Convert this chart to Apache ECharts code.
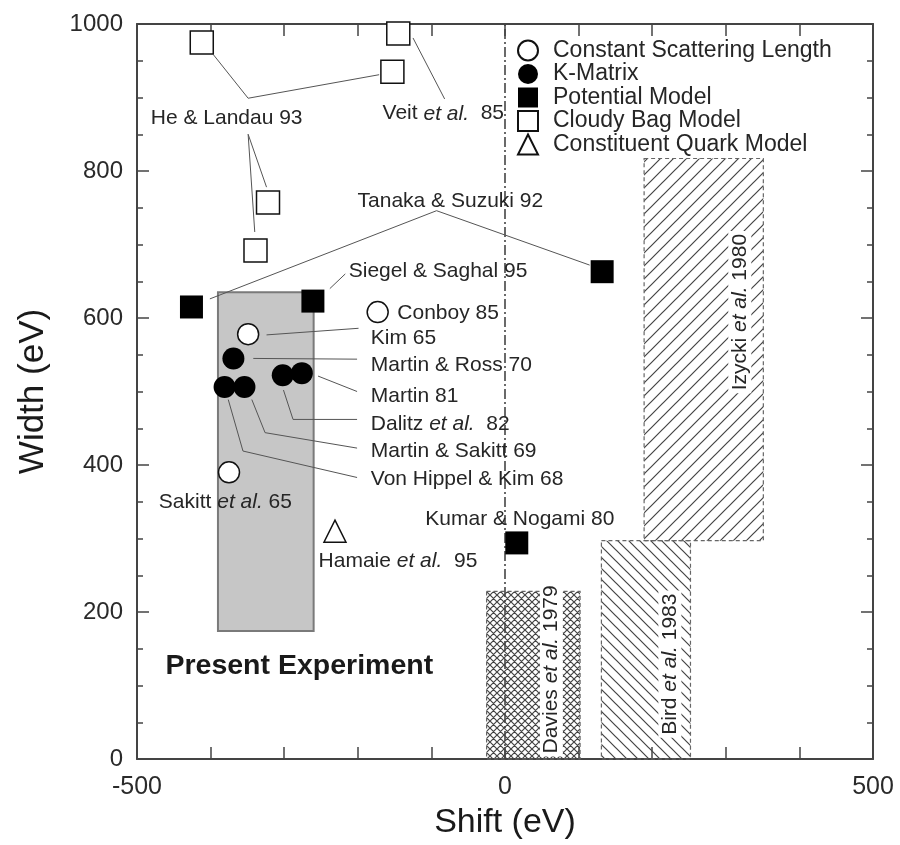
<!DOCTYPE html>
<html><head><meta charset="utf-8">
<script src="https://cdn.jsdelivr.net/npm/echarts@6/dist/echarts.min.js"></script>
<style>html,body{margin:0;padding:0;background:#fff}#chart{width:900px;height:845px}</style>
</head><body><div id="chart"></div>
<script>
// ---- data ----
const xTickLabels = [-500, 0, 500];
const yTickLabels = [0, 200, 400, 600, 800, 1000];
const seriesNames = ['Constant Scattering Length', 'K-Matrix', 'Potential Model', 'Cloudy Bag Model', 'Constituent Quark Model'];
const constantScattering = [[-173, 608], [-349, 578], [-375, 390]];
const kMatrix = [[-369, 545], [-381, 506], [-354, 506], [-302, 522], [-276, 525]];
const potentialModel = [[-426, 615], [-261, 623], [132, 663], [16, 294]];
const cloudyBag = [[-412, 975], [-145, 987], [-153, 935], [-322, 757], [-339, 692]];
const constituentQuark = [[-231, 310]];
// regions: [xMin, xMax, yMin, yMax]
const regions = [[-390, -260, 174, 635], [-25, 102, 0, 228], [131, 252, 0, 297], [189, 351, 297, 817]];
const regionKinds = ['present', 'cross', 'back', 'fwd'];
const zeroLine = [[0, 0], [0, 1000]];
const leaders = [
  [[-396, 958], [-349, 899], [-171, 931]],
  [[-349, 850], [-324, 778]],
  [[-349, 850], [-340, 717]],
  [[-125, 981], [-82, 898]],
  [[-401, 626], [-93, 746], [115, 672]],
  [[-217, 660], [-238, 640]],
  [[-324, 577], [-199, 586]],
  [[-342, 545], [-201, 544]],
  [[-254, 521], [-201, 500]],
  [[-301, 502], [-288, 462], [-201, 462]],
  [[-344, 489], [-326, 444], [-201, 423]],
  [[-376, 489], [-356, 419], [-201, 383]]
];
const notes = [
  ['He & Landau 93', -482, 872],
  ['Veit {i|et al.}  85', -167, 878],
  ['Tanaka & Suzuki 92', -201, 759],
  ['Siegel & Saghal 95', -213, 663],
  ['Conboy 85', -147, 606],
  ['Kim 65', -183, 572],
  ['Martin & Ross 70', -183, 536],
  ['Martin 81', -183, 494],
  ['Dalitz {i|et al.}  82', -183, 456],
  ['Martin & Sakitt 69', -183, 419],
  ['Von Hippel & Kim 68', -183, 380],
  ['Sakitt {i|et al.} 65', -471, 349],
  ['Hamaie {i|et al.}  95', -254, 269],
  ['Kumar & Nogami 80', -109, 326]
];
const boldNotes = [['Present Experiment', -462, 127]];
const vertNotes = [
  ['Davies {i|et al.} 1979', 63, 122],
  ['Bird {i|et al.} 1983', 224, 129],
  ['Izycki {i|et al.} 1980', 319, 608]
];

// ---- rendering ----
const FONT = 'Liberation Sans, Arial, Helvetica, sans-serif';
const TXT = '#262626';
function hatch(kind) {
  const s = kind === 'cross' ? 7 : (kind === 'back' ? 11 : 13);
  const c = document.createElement('canvas');
  c.width = s; c.height = s;
  const g = c.getContext('2d');
  g.strokeStyle = '#444'; g.lineWidth = 1.2;
  g.beginPath();
  if (kind === 'fwd' || kind === 'cross') {
    g.moveTo(-1, s + 1); g.lineTo(s + 1, -1);
    g.moveTo(-1, 1); g.lineTo(1, -1);
    g.moveTo(s - 1, s + 1); g.lineTo(s + 1, s - 1);
  }
  if (kind === 'back' || kind === 'cross') {
    g.moveTo(-1, -1); g.lineTo(s + 1, s + 1);
    g.moveTo(s - 1, -1); g.lineTo(s + 1, 1);
    g.moveTo(-1, s - 1); g.lineTo(1, s + 1);
  }
  g.stroke();
  return c;
}
const patterns = { cross: hatch('cross'), back: hatch('back'), fwd: hatch('fwd') };

const richItalic = (size) => ({ i: { fontStyle: 'italic', fontSize: size, fontFamily: FONT, color: TXT } });
const axisCol = '#444';
function xAxisCfg(pos) {
  return {
    type: 'value', min: -500, max: 500, interval: 100, position: pos,
    axisLine: { onZero: false, lineStyle: { color: axisCol, width: 2 } },
    axisTick: { inside: true, length: 12, lineStyle: { color: axisCol, width: 1.5 } },
    axisLabel: pos === 'bottom' ? {
      show: true, fontSize: 25, color: '#2a2a2a', margin: 16, fontFamily: FONT,
      formatter: v => xTickLabels.includes(v) ? String(v) : ''
    } : { show: false },
    splitLine: { show: false }
  };
}
function yAxisCfg(pos) {
  return {
    type: 'value', min: 0, max: 1000, interval: 200, position: pos,
    axisLine: { onZero: false, lineStyle: { color: axisCol, width: 2 } },
    axisTick: { inside: true, length: 12, lineStyle: { color: axisCol, width: 1.5 } },
    minorTick: { show: true, splitNumber: 4, length: 6, lineStyle: { color: axisCol, width: 1.5 } },
    axisLabel: pos === 'left' ? {
      show: true, fontSize: 24, color: '#2a2a2a', margin: 14, fontFamily: FONT,
      formatter: v => yTickLabels.includes(v) ? String(v) : ''
    } : { show: false },
    splitLine: { show: false }, minorSplitLine: { show: false }
  };
}
const xb = xAxisCfg('bottom');
xb.name = 'Shift (eV)'; xb.nameLocation = 'middle'; xb.nameGap = 47;
xb.nameTextStyle = { fontSize: 34, color: '#1a1a1a', fontFamily: FONT };
const xt = xAxisCfg('top');
const yl = yAxisCfg('left');
yl.name = 'Width (eV)'; yl.nameLocation = 'middle'; yl.nameGap = 86;
yl.nameTextStyle = { fontSize: 35, color: '#1a1a1a', fontFamily: FONT };
const yr = yAxisCfg('right');

const markerSeries = (name, data, symbol, size, open) => ({
  name, type: 'scatter', data, symbol, symbolSize: size, z: 6, silent: true,
  itemStyle: open ? { color: '#fff', borderColor: '#111', borderWidth: 1.5, opacity: 1 }
                  : { color: '#000', borderColor: '#000', borderWidth: 0, opacity: 1 }
});
const hidden = { color: 'rgba(0,0,0,0)', borderWidth: 0, opacity: 1 };

const option = {
  animation: false,
  backgroundColor: '#fff',
  textStyle: { fontFamily: FONT },
  grid: { left: 137, right: 27, top: 24, bottom: 82 },
  xAxis: [xb, xt],
  yAxis: [yl, yr],
  legend: {
    orient: 'vertical', left: 512, top: 34, itemWidth: 20, itemHeight: 20, itemGap: 0.5,
    selectedMode: false,
    textStyle: { fontSize: 23, color: TXT, fontFamily: FONT, padding: [0, 0, 0, 10] },
    data: [
      { name: seriesNames[0], icon: 'circle' },
      { name: seriesNames[1], icon: 'circle' },
      { name: seriesNames[2], icon: 'rect' },
      { name: seriesNames[3], icon: 'rect' },
      { name: seriesNames[4], icon: 'triangle' }
    ]
  },
  series: [
    {
      type: 'custom', z: 1, silent: true, data: regions,
      encode: { x: [0, 1], y: [2, 3] },
      renderItem: (params, api) => {
        const k = regionKinds[params.dataIndex];
        const p1 = api.coord([api.value(0), api.value(3)]);
        const p2 = api.coord([api.value(1), api.value(2)]);
        const shape = { x: p1[0], y: p1[1], width: p2[0] - p1[0], height: p2[1] - p1[1] };
        if (k === 'present') {
          return { type: 'rect', shape, style: { fill: '#c6c6c6', stroke: '#7a7a7a', lineWidth: 2 } };
        }
        return { type: 'rect', shape, style: { fill: { image: patterns[k], repeat: 'repeat' }, stroke: '#666', lineWidth: 1.2, lineDash: [4, 3] } };
      }
    },
    {
      type: 'line', data: zeroLine, symbol: 'none', z: 2, silent: true,
      lineStyle: { color: '#444', width: 1.6, type: [10, 3, 2, 3] }
    },
    {
      type: 'lines', coordinateSystem: 'cartesian2d', polyline: true, z: 3, silent: true,
      data: leaders.map(c => ({ coords: c })),
      lineStyle: { color: '#555', width: 1, opacity: 1 }
    },
    markerSeries(seriesNames[0], constantScattering, 'circle', 21, true),
    markerSeries(seriesNames[1], kMatrix, 'circle', 22, false),
    markerSeries(seriesNames[2], potentialModel, 'rect', 23, false),
    markerSeries(seriesNames[3], cloudyBag, 'rect', 23, true),
    markerSeries(seriesNames[4], constituentQuark, 'triangle', 22, true),
    {
      type: 'scatter', symbolSize: 1, z: 8, silent: true, itemStyle: hidden,
      data: notes.map(n => ({ name: n[0], value: [n[1], n[2]] })),
      label: { show: true, position: 'right', distance: 0, formatter: '{b}', fontSize: 21, color: TXT, fontFamily: FONT, rich: richItalic(21) }
    },
    {
      type: 'scatter', symbolSize: 1, z: 8, silent: true, itemStyle: hidden,
      data: boldNotes.map(n => ({ name: n[0], value: [n[1], n[2]] })),
      label: { show: true, position: 'right', distance: 0, formatter: '{b}', fontSize: 28.5, fontWeight: 'bold', color: '#1a1a1a', fontFamily: FONT }
    },
    {
      type: 'scatter', symbolSize: 1, z: 8, silent: true, itemStyle: hidden,
      data: vertNotes.map(n => ({ name: n[0], value: [n[1], n[2]] })),
      label: { show: true, position: 'inside', rotate: 90, formatter: '{b}', fontSize: 21, color: TXT, fontFamily: FONT,
               backgroundColor: '#fff', padding: [1, 3], rich: richItalic(21) }
    }
  ]
};
const chart = echarts.init(document.getElementById('chart'), null, { renderer: 'canvas' });
chart.setOption(option);
</script></body></html>
